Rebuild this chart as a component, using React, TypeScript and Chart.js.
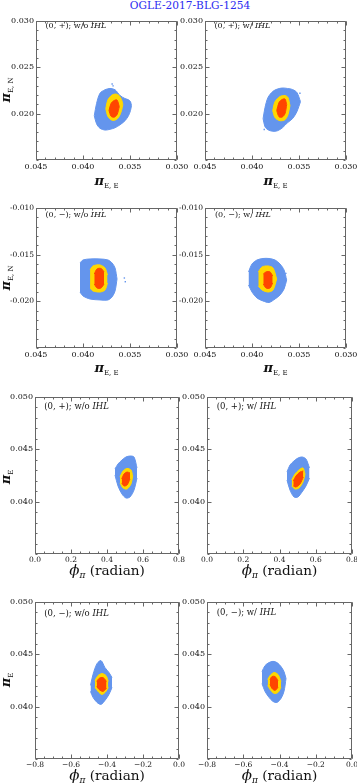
import React, { useEffect, useRef } from 'react';
import { Chart, registerables } from 'chart.js';
Chart.register(...registerables);

const FONT = "'DejaVu Serif', serif";
const BLUE = '#6495ed';
const YELLOW = '#ffd700';
const RED = '#ff4500';
const FRAME = '#666666';
const LABEL = '#111111';

// ---- tick labels ----
const piEETicks = [0.045, 0.040, 0.035, 0.030];
const piENPlusTicks = [0.020, 0.025, 0.030];
const piENMinusTicks = [-0.020, -0.015, -0.010];
const piETicks = [0.040, 0.045, 0.050];
const phiPlusTicks = [0.0, 0.2, 0.4, 0.6, 0.8];
const phiMinusTicks = [-0.8, -0.6, -0.4, -0.2, 0.0];

// ---- regions: [x, upper y, lower y] ----
// panel 1: (0,+) w/o IHL, piE,E vs piE,N
const p1Blue = [[0.0388, 0.01978, 0.01978], [0.03856, 0.02109, 0.01891], [0.03819, 0.02221, 0.01842], [0.03766, 0.02258, 0.01823], [0.03713, 0.02272, 0.01831], [0.03659, 0.02258, 0.01848], [0.03606, 0.02196, 0.0188], [0.03553, 0.02163, 0.01924], [0.03516, 0.0215, 0.01978], [0.03495, 0.0213, 0.02033], [0.03484, 0.02087, 0.02087]];
const p1Yellow = [[0.03758, 0.02054, 0.02054], [0.03734, 0.02152, 0.01967], [0.03691, 0.02201, 0.01929], [0.03649, 0.02212, 0.01935], [0.03617, 0.02196, 0.01967], [0.0359, 0.02152, 0.02033], [0.03576, 0.02098, 0.02098]];
const p1Red = [[0.03723, 0.02033, 0.02033], [0.03702, 0.02109, 0.01973], [0.0367, 0.02141, 0.01962], [0.03638, 0.02147, 0.01989], [0.03614, 0.02076, 0.02076]];
const p1Dots = [[0.0369, 0.0232], [0.0368, 0.0230]];

// panel 2: (0,+) w/ IHL
const p2Blue = [[0.03882, 0.01946, 0.01946], [0.03862, 0.02065, 0.01859], [0.0383, 0.02174, 0.01826], [0.0378, 0.02239, 0.0181], [0.0373, 0.02266, 0.01815], [0.03676, 0.02277, 0.01848], [0.03623, 0.02272, 0.01902], [0.03569, 0.02261, 0.01946], [0.03522, 0.02228, 0.02022], [0.03484, 0.0213, 0.0213]];
const p2Yellow = [[0.0378, 0.02033, 0.02033], [0.03755, 0.0213, 0.01957], [0.03702, 0.02185, 0.01924], [0.03649, 0.02196, 0.01935], [0.03617, 0.02174, 0.01989], [0.03596, 0.02087, 0.02087]];
const p2Red = [[0.03737, 0.02033, 0.02033], [0.03713, 0.0212, 0.01967], [0.03681, 0.02152, 0.01962], [0.03649, 0.02158, 0.02], [0.03631, 0.02098, 0.02098]];
const p2Dots = [[0.0387, 0.0183], [0.0349, 0.0222]];

// panel 3: (0,-) w/o IHL
const p3Blue = [[0.04032, -0.01589, -0.019], [0.04, -0.01557, -0.01942], [0.03925, -0.01546, -0.01975], [0.03819, -0.01546, -0.01985], [0.03734, -0.01557, -0.01985], [0.03691, -0.01589, -0.01953], [0.03659, -0.01643, -0.01889], [0.03638, -0.0176, -0.0176]];
const p3Yellow = [[0.03925, -0.01664, -0.01857], [0.03894, -0.01621, -0.01889], [0.03819, -0.0161, -0.019], [0.03766, -0.01643, -0.01878], [0.03739, -0.01718, -0.01803]];
const p3Red = [[0.0388, -0.01707, -0.01814], [0.03851, -0.01653, -0.01857], [0.03808, -0.01648, -0.01857], [0.03776, -0.01685, -0.01814]];
const p3Dots = [[0.0356, -0.0175], [0.0355, -0.0179]];

// panel 4: (0,-) w/ IHL
const p4Blue = [[0.04037, -0.01685, -0.01825], [0.04, -0.016, -0.019], [0.03947, -0.01557, -0.01964], [0.03883, -0.01541, -0.01996], [0.03819, -0.01541, -0.02012], [0.03755, -0.01557, -0.01975], [0.03702, -0.016, -0.01932], [0.03659, -0.01664, -0.01868], [0.03631, -0.01771, -0.01771]];
const p4Yellow = [[0.03933, -0.01685, -0.01835], [0.03894, -0.01632, -0.01878], [0.0383, -0.01621, -0.019], [0.03776, -0.01643, -0.01878], [0.03737, -0.0176, -0.0176]];
const p4Red = [[0.0388, -0.01707, -0.01814], [0.03851, -0.01685, -0.01857], [0.03808, -0.01685, -0.01857], [0.0378, -0.01728, -0.01803]];
const p4Dots = [[0.0364, -0.0170]];

// panel 5: (0,+) w/o IHL, phi vs piE
const p5Blue = [[0.4444, 0.04312, 0.04255], [0.4611, 0.0436, 0.0415], [0.4833, 0.04398, 0.04073], [0.5056, 0.04427, 0.04035], [0.5278, 0.04436, 0.04045], [0.55, 0.04427, 0.04111], [0.5667, 0.04322, 0.04226]];
const p5Yellow = [[0.4722, 0.04236, 0.04178], [0.4889, 0.04293, 0.04131], [0.5111, 0.04317, 0.04121], [0.5333, 0.04303, 0.04169], [0.5428, 0.04245, 0.04245]];
const p5Red = [[0.4817, 0.04217, 0.04178], [0.4944, 0.04264, 0.0415], [0.5111, 0.04283, 0.04159], [0.5278, 0.04274, 0.04217]];

// panel 6: (0,+) w/ IHL
const p6Blue = [[0.4414, 0.04283, 0.04207], [0.4579, 0.0435, 0.04111], [0.48, 0.04389, 0.04045], [0.5021, 0.04417, 0.04045], [0.5241, 0.04427, 0.04092], [0.5462, 0.04408, 0.0415], [0.5655, 0.04322, 0.04226]];
const p6Yellow = [[0.4673, 0.04207, 0.0415], [0.4855, 0.04264, 0.04121], [0.5076, 0.04303, 0.04131], [0.5296, 0.04322, 0.04188], [0.5407, 0.04264, 0.04264]];
const p6Red = [[0.4761, 0.04197, 0.0415], [0.491, 0.04245, 0.0414], [0.5131, 0.04283, 0.04169], [0.5313, 0.04293, 0.04236]];

// panel 7: (0,-) w/o IHL
const p7Blue = [[-0.4917, 0.04203, 0.04146], [-0.4778, 0.04307, 0.04089], [-0.4556, 0.04411, 0.04041], [-0.4333, 0.0444, 0.04022], [-0.4111, 0.04373, 0.0406], [-0.3889, 0.04326, 0.04117], [-0.3722, 0.04278, 0.04184]];
const p7Yellow = [[-0.4667, 0.0425, 0.04184], [-0.45, 0.04297, 0.04146], [-0.4278, 0.04316, 0.04117], [-0.4056, 0.04297, 0.04146], [-0.3928, 0.04241, 0.04184]];
const p7Red = [[-0.4572, 0.04241, 0.04193], [-0.4444, 0.0427, 0.04165], [-0.4222, 0.04278, 0.04146], [-0.4028, 0.04241, 0.04175]];

// panel 8: (0,-) w/ IHL
const p8Blue = [[-0.4966, 0.04335, 0.04221], [-0.48, 0.04392, 0.04146], [-0.4579, 0.04421, 0.04089], [-0.4359, 0.04433, 0.0405], [-0.4138, 0.04421, 0.04041], [-0.3917, 0.04383, 0.04079], [-0.3752, 0.04335, 0.04146], [-0.3641, 0.04269, 0.04269]];
const p8Yellow = [[-0.4651, 0.04259, 0.04203], [-0.4524, 0.04297, 0.04165], [-0.4303, 0.04326, 0.04127], [-0.4083, 0.04307, 0.04136], [-0.3917, 0.04241, 0.04184]];
const p8Red = [[-0.4524, 0.04259, 0.04212], [-0.4414, 0.04288, 0.04174], [-0.4248, 0.04288, 0.04155], [-0.4083, 0.0425, 0.04184]];

const AX_W = 34;
const PAD_T = 8;
const PAD_R = 14;
const AX_H = 16;

const f3 = (v: number) => v.toFixed(3);
const f1m = (v: number) => (v < -1e-9 ? '\u2212' + Math.abs(v).toFixed(1) : Math.abs(v).toFixed(1));

type Cfg = {
  box: { l: number; t: number; r: number; b: number };
  xMin: number; xMax: number; xRev: boolean; xTicks: number[]; xMinor: number; xFmt: (v: number) => string; xSize: number;
  yMin: number; yMax: number; yTicks: number[]; yMinor: number; yFmt: (v: number) => string; ySize: number;
  blue: number[][]; yellow: number[][]; red: number[][]; dots: number[][];
};

function region(pts: number[][], color: string, order: number) {
  const common = { borderColor: color, backgroundColor: color, borderWidth: 1, pointRadius: 0, tension: 0.3, order };
  return [
    { ...common, data: pts.map((p) => ({ x: p[0], y: p[1] })), fill: '+1' },
    { ...common, data: pts.map((p) => ({ x: p[0], y: p[2] })), fill: false },
  ];
}

function Panel({ cfg }: { cfg: Cfg }) {
  const ref = useRef<HTMLCanvasElement>(null);
  const bw = cfg.box.r - cfg.box.l;
  const bh = cfg.box.b - cfg.box.t;
  const W = AX_W + bw + PAD_R;
  const H = PAD_T + bh + AX_H;
  useEffect(() => {
    const framePlugin = {
      id: 'frameTicks',
      afterDatasetsDraw(chart: any) {
        const { ctx, chartArea: a } = chart;
        const xs = chart.scales.x;
        const ys = chart.scales.y;
        ctx.save();
        ctx.strokeStyle = FRAME;
        ctx.lineWidth = 1;
        const L = Math.round(a.left) + 0.5;
        const R = Math.round(a.right) - 0.5;
        const T = Math.round(a.top) + 0.5;
        const B = Math.round(a.bottom) - 0.5;
        ctx.beginPath();
        ctx.rect(L, T, R - L, B - T);
        ctx.stroke();
        const drawX = (v: number, len: number) => {
          const p = Math.round(xs.getPixelForValue(v)) + 0.5;
          ctx.moveTo(p, B); ctx.lineTo(p, B - len);
          ctx.moveTo(p, T); ctx.lineTo(p, T + len);
        };
        const drawY = (v: number, len: number) => {
          const p = Math.round(ys.getPixelForValue(v)) + 0.5;
          ctx.moveTo(L, p); ctx.lineTo(L + len, p);
          ctx.moveTo(R, p); ctx.lineTo(R - len, p);
        };
        ctx.beginPath();
        const nx = Math.round((cfg.xMax - cfg.xMin) / cfg.xMinor);
        for (let i = 0; i <= nx; i++) drawX(cfg.xMin + i * cfg.xMinor, 2);
        const ny = Math.round((cfg.yMax - cfg.yMin) / cfg.yMinor);
        for (let i = 0; i <= ny; i++) drawY(cfg.yMin + i * cfg.yMinor, 2);
        cfg.xTicks.forEach((v) => drawX(v, 4));
        cfg.yTicks.forEach((v) => drawY(v, 4));
        ctx.stroke();
        ctx.restore();
      },
    };
    const datasets: any[] = [
      ...region(cfg.red, RED, 1),
      ...region(cfg.yellow, YELLOW, 2),
      ...region(cfg.blue, BLUE, 3),
      {
        data: cfg.dots.map((p) => ({ x: p[0], y: p[1] })),
        showLine: false, pointRadius: 1, pointStyle: 'rect', pointBorderWidth: 0,
        backgroundColor: BLUE, borderColor: BLUE, order: 4, fill: false,
      },
    ];
    const chart = new Chart(ref.current as HTMLCanvasElement, {
      type: 'line',
      data: { datasets },
      options: {
        animation: false,
        responsive: false,
        devicePixelRatio: 1,
        layout: { padding: { left: 0, top: PAD_T, right: PAD_R, bottom: 0 } },
        plugins: { legend: { display: false }, tooltip: { enabled: false } },
        scales: {
          x: {
            type: 'linear', min: cfg.xMin, max: cfg.xMax, reverse: cfg.xRev,
            afterBuildTicks: (s: any) => { s.ticks = cfg.xTicks.map((v) => ({ value: v })); },
            afterFit: (s: any) => { s.height = AX_H; },
            grid: { display: false, drawTicks: false },
            border: { display: false },
            ticks: {
              autoSkip: false, maxRotation: 0, minRotation: 0, padding: 2,
              color: LABEL, font: { family: FONT, size: cfg.xSize },
              callback: (v: any) => cfg.xFmt(Number(v)),
            },
          },
          y: {
            type: 'linear', min: cfg.yMin, max: cfg.yMax,
            afterBuildTicks: (s: any) => { s.ticks = cfg.yTicks.map((v) => ({ value: v })); },
            afterFit: (s: any) => { s.width = AX_W; },
            grid: { display: false, drawTicks: false },
            border: { display: false },
            ticks: {
              autoSkip: false, padding: 2,
              color: LABEL, font: { family: FONT, size: cfg.ySize },
              callback: (v: any) => cfg.yFmt(Number(v)),
            },
          },
        },
      } as any,
      plugins: [framePlugin],
    });
    return () => chart.destroy();
  }, []);
  return (
    <canvas
      ref={ref}
      width={W}
      height={H}
      style={{ position: 'absolute', left: cfg.box.l - AX_W, top: cfg.box.t - PAD_T, width: W, height: H }}
    />
  );
}

const rowA = { xMin: 0.030, xMax: 0.045, xRev: true, xTicks: piEETicks, xMinor: 0.001, xFmt: f3, xSize: 8, yMinor: 0.001 };
const rowC = { xMin: 0.0, xMax: 0.8, xRev: false, xTicks: phiPlusTicks, xMinor: 0.05, xFmt: f1m, xSize: 7.5, yMin: 0.035, yMax: 0.050, yTicks: piETicks, yMinor: 0.001, yFmt: f3, ySize: 8 };
const rowD = { ...rowC, xMin: -0.8, xMax: 0.0, xTicks: phiMinusTicks };

const panels: Cfg[] = [
  { ...rowA, box: { l: 36, t: 21, r: 177, b: 160 }, yMin: 0.015, yMax: 0.030, yTicks: piENPlusTicks, yFmt: f3, ySize: 8, blue: p1Blue, yellow: p1Yellow, red: p1Red, dots: p1Dots },
  { ...rowA, box: { l: 205, t: 21, r: 346, b: 160 }, yMin: 0.015, yMax: 0.030, yTicks: piENPlusTicks, yFmt: f3, ySize: 8, blue: p2Blue, yellow: p2Yellow, red: p2Red, dots: p2Dots },
  { ...rowA, box: { l: 36, t: 208, r: 177, b: 348 }, yMin: -0.025, yMax: -0.010, yTicks: piENMinusTicks, yFmt: f3, ySize: 7.5, blue: p3Blue, yellow: p3Yellow, red: p3Red, dots: p3Dots },
  { ...rowA, box: { l: 205, t: 208, r: 346, b: 348 }, yMin: -0.025, yMax: -0.010, yTicks: piENMinusTicks, yFmt: f3, ySize: 7.5, blue: p4Blue, yellow: p4Yellow, red: p4Red, dots: p4Dots },
  { ...rowC, box: { l: 35, t: 397, r: 179, b: 554 }, blue: p5Blue, yellow: p5Yellow, red: p5Red, dots: [] },
  { ...rowC, box: { l: 207, t: 397, r: 352, b: 554 }, blue: p6Blue, yellow: p6Yellow, red: p6Red, dots: [] },
  { ...rowD, box: { l: 35, t: 602, r: 179, b: 759 }, blue: p7Blue, yellow: p7Yellow, red: p7Red, dots: [] },
  { ...rowD, box: { l: 207, t: 602, r: 352, b: 759 }, blue: p8Blue, yellow: p8Yellow, red: p8Red, dots: [] },
];

const notes = [
  { x: 45.5, y: 25.5, sign: '+', ihl: 'w/o', size: 8 },
  { x: 214.5, y: 25.5, sign: '+', ihl: 'w/', size: 8 },
  { x: 45.5, y: 215, sign: '\u2212', ihl: 'w/o', size: 8 },
  { x: 215, y: 215, sign: '\u2212', ihl: 'w/', size: 8 },
  { x: 44.3, y: 405.5, sign: '+', ihl: 'w/o', size: 8.5 },
  { x: 216.7, y: 405.7, sign: '+', ihl: 'w/', size: 8.5 },
  { x: 44.3, y: 612.5, sign: '\u2212', ihl: 'w/o', size: 8.5 },
  { x: 216.7, y: 612, sign: '\u2212', ihl: 'w/', size: 8.5 },
];

const center = (x: number, y: number, rot = false): React.CSSProperties => ({
  position: 'absolute', left: x, top: y, whiteSpace: 'nowrap', lineHeight: 1, fontFamily: FONT, color: '#111',
  transform: rot ? 'translate(-50%,-50%) rotate(-90deg)' : 'translate(-50%,-50%)',
});

function PiTitle({ sub }: { sub: string }) {
  return (
    <span>
      <span style={{ fontStyle: 'italic', fontWeight: 'bold', fontSize: 13 }}>{'\u03c0'}</span>
      <span style={{ fontSize: 7, position: 'relative', top: 3 }}>{sub}</span>
    </span>
  );
}

function PhiTitle() {
  return (
    <span style={{ fontSize: 13.6 }}>
      <span style={{ fontStyle: 'italic', fontSize: 15 }}>{'\u03d5'}</span>
      <span style={{ fontStyle: 'italic', fontSize: 9, position: 'relative', top: 3 }}>{'\u03c0'}</span>
      {' (radian)'}
    </span>
  );
}

export default function App() {
  return (
    <div style={{ position: 'absolute', left: 0, top: 0, width: 357, height: 784, overflow: 'hidden', background: '#fff' }}>
      <div style={{ ...center(190, 4.5), color: '#2b2bf0', fontSize: 10.6 }}>OGLE-2017-BLG-1254</div>
      {panels.map((p, i) => <Panel key={i} cfg={p} />)}
      {notes.map((n, i) => (
        <div key={'n' + i} style={{ position: 'absolute', left: n.x, top: n.y, transform: 'translateY(-50%)', whiteSpace: 'nowrap', lineHeight: 1, fontFamily: FONT, fontSize: n.size, color: '#111' }}>
          {'(0, ' + n.sign + '); ' + n.ihl + ' '}<i>IHL</i>
        </div>
      ))}
      <div style={center(106.5, 180)}><PiTitle sub="E, E" /></div>
      <div style={center(275.5, 180)}><PiTitle sub="E, E" /></div>
      <div style={center(106.5, 367)}><PiTitle sub="E, E" /></div>
      <div style={center(275.5, 367)}><PiTitle sub="E, E" /></div>
      <div style={center(5, 90, true)}><PiTitle sub="E, N" /></div>
      <div style={center(5, 278, true)}><PiTitle sub="E, N" /></div>
      <div style={center(5, 477, true)}><PiTitle sub="E" /></div>
      <div style={center(5, 680, true)}><PiTitle sub="E" /></div>
      <div style={center(107, 570)}><PhiTitle /></div>
      <div style={center(279.5, 570)}><PhiTitle /></div>
      <div style={center(107, 775)}><PhiTitle /></div>
      <div style={center(279.5, 775)}><PhiTitle /></div>
    </div>
  );
}
